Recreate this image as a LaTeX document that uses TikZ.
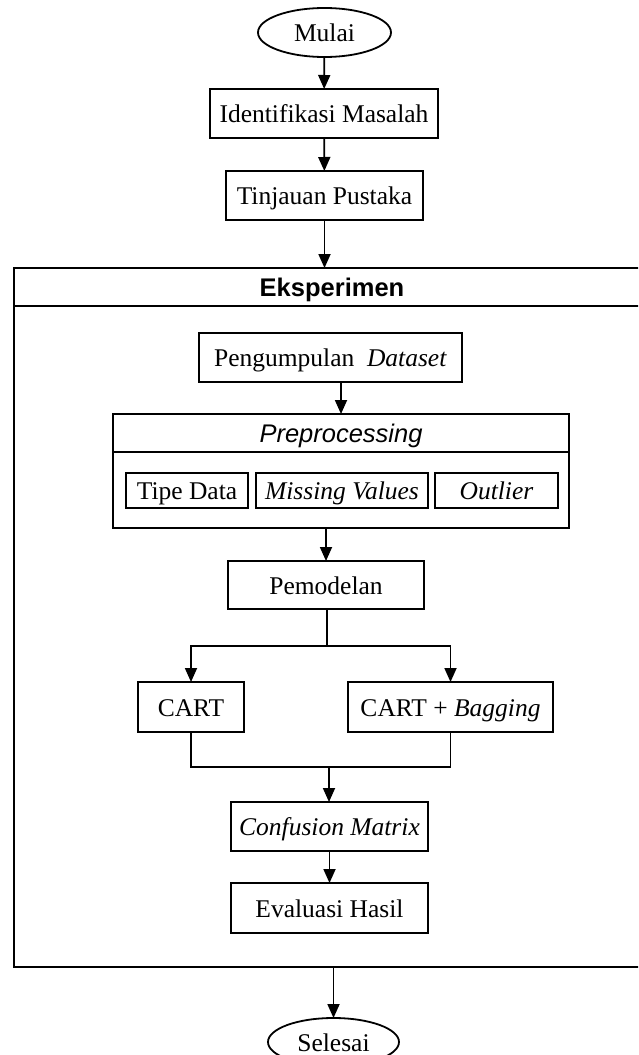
\documentclass[tikz,border=0pt]{standalone}
\usepackage{fontspec}
\setmainfont{Liberation Serif}
\setsansfont{Liberation Sans}
\usetikzlibrary{arrows.meta,shapes.geometric}
\begin{document}
\begin{tikzpicture}[x=1pt,y=-1pt,
  every node/.style={inner sep=0pt,outer sep=0pt,text height=18pt,text depth=0pt,font=\fontsize{25.5}{30}\selectfont},
  line/.style={line width=1.8pt,draw=black},
  arr/.style={line width=1.8pt,-{Triangle[length=14pt,width=12pt]}},
  stepbox/.style={draw,line width=1.8pt,rectangle,minimum height=49pt},
  term/.style={draw,line width=1.8pt,ellipse,minimum width=133pt,minimum height=49pt}]
\useasboundingbox (0,0) rectangle (638,1055);
\clip (0,0) rectangle (638,1055);
% top part
\node[term] (mulai) at (324.5,32.5) {Mulai};
\node[stepbox,minimum width=228pt] (ident) at (324,113.5) {Identifikasi Masalah};
\node[stepbox,minimum width=197pt] (tinj) at (324.5,195.5) {Tinjauan Pustaka};
% outer experiment box
\node[draw,line width=1.8pt,rectangle,minimum width=636pt,minimum height=699pt] (eks) at (332,617.5) {};
\coordinate (hdr) at (0,306);
\draw[line] (eks.west |- hdr) -- (eks.east |- hdr);
\node[font=\sffamily\bfseries\fontsize{25.5}{30}\selectfont] (ekst) at (332,287) {Eksperimen};
% inside
\node[stepbox,minimum width=263pt] (peng) at (330.5,357.5) {Pengumpulan\ \ \textit{Dataset}};
\node[draw,line width=1.8pt,rectangle,minimum width=456pt,minimum height=114pt] (pre) at (341,471) {};
\coordinate (prehdr) at (0,452);
\draw[line] (pre.west |- prehdr) -- (pre.east |- prehdr);
\node[font=\sffamily\itshape\fontsize{25.5}{30}\selectfont] (pret) at (341,433) {Preprocessing};
\node[stepbox,minimum width=122pt,minimum height=35pt] (tipe) at (187,490.5) {Tipe Data};
\node[stepbox,minimum width=172pt,minimum height=35pt] (miss) at (342,490.5) {\textit{Missing Values}};
\node[stepbox,minimum width=123pt,minimum height=35pt] (outl) at (496.5,490.5) {\textit{Outlier}};
\node[stepbox,minimum width=196pt,minimum height=48pt] (pem) at (326,585) {Pemodelan};
\node[stepbox,minimum width=106pt,minimum height=50pt] (cart) at (191,707) {CART};
\node[stepbox,minimum width=205pt,minimum height=50pt] (cartb) at (450.5,707) {CART + \textit{Bagging}};
\node[stepbox,minimum width=197pt] (conf) at (329.5,826.5) {\textit{Confusion Matrix}};
\node[stepbox,minimum width=197pt,minimum height=50pt] (eval) at (329.5,908) {Evaluasi Hasil};
\node[term,minimum width=131pt,minimum height=48pt] (sel) at (333.5,1042) {Selesai};
% connectors
\draw[arr] (mulai) -- (ident);
\draw[arr] (ident) -- (tinj);
\draw[arr] (tinj.south) -- (tinj.south |- eks.north);
\draw[arr] (pre.north |- peng.south) -- (pre.north);
\draw[arr] (pre.south -| pem.north) -- (pem.north);
\coordinate (split) at (327,646);
\coordinate (merge) at (329,767);
\draw[line] (pem.south -| split) -- (split);
\draw[arr] (split) -| (cart.north);
\draw[arr] (split) -| (cartb.north);
\draw[line] (cart.south) |- (merge) -| (cartb.south);
\draw[arr] (merge) -- (merge |- conf.north);
\draw[arr] (conf.south -| eval.north) -- (eval.north);
\draw[arr] (eks.south -| sel.north) -- (sel.north);
\end{tikzpicture}
\end{document}
